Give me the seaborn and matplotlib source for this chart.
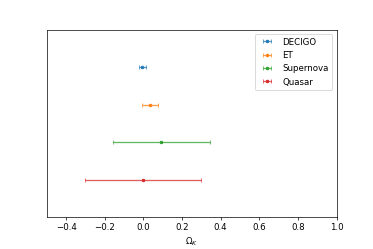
import matplotlib
matplotlib.use("Agg")
import matplotlib.pyplot as plt
import seaborn as sns

labels = ["DECIGO", "ET", "Supernova", "Quasar"]
omega_k = [-0.005, 0.035, 0.093, 0.0]
omega_err = [0.017, 0.04, 0.25, 0.30]
ypos = [4, 3, 2, 1]

colors = sns.color_palette("tab10", 4)

fig, ax = plt.subplots(figsize=(6, 4), dpi=62.33)
fig.subplots_adjust(left=0.125, right=0.9, top=0.88, bottom=0.128)

for lab, x, e, y, c in zip(labels, omega_k, omega_err, ypos, colors):
    cont = ax.errorbar(x, y, xerr=e, fmt=".", color=c, capsize=2,
                       elinewidth=1.5, markersize=6, label=lab)
    for art in cont[1] + cont[2]:
        art.set_alpha(0.75)

ax.set_xlim(-0.5, 1.0)
ax.set_ylim(0, 5)
ax.set_yticks([])
ax.set_xlabel(r"$\Omega_K$")
ax.legend(loc="upper right")

fig.savefig("out.png")
